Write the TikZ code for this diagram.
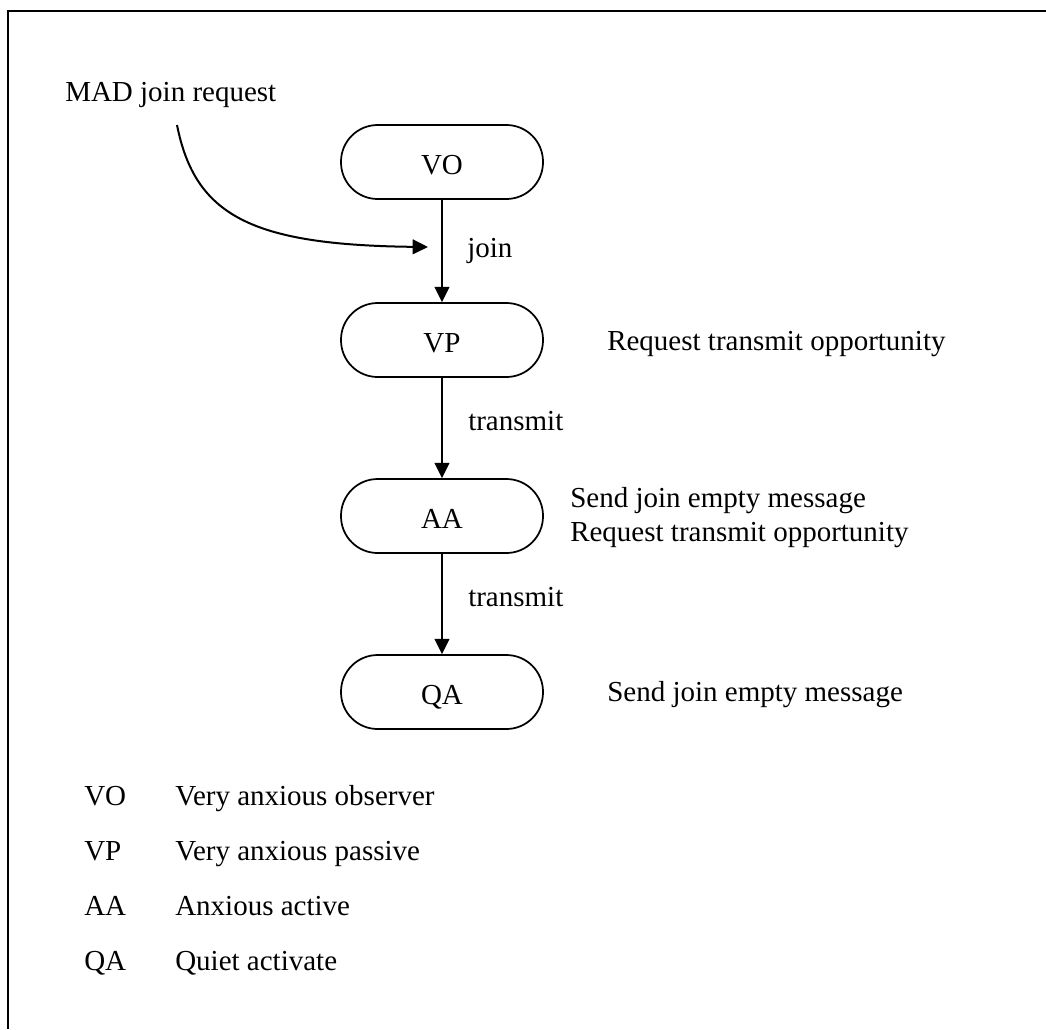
\documentclass[tikz,border=0pt]{standalone}
\usepackage{fontspec}
\setmainfont{Liberation Serif}
\usetikzlibrary{arrows.meta}
\begin{document}
\begin{tikzpicture}[x=0.75pt,y=-0.75pt,
  every node/.style={font=\fontsize{21.75pt}{26pt}\selectfont},
  state/.style={draw, line width=1.3pt, rounded corners=27.5pt,
    minimum width=151.5pt, minimum height=55.5pt, inner sep=0pt,
    text height=18pt, text depth=0pt},
  txt/.style={inner sep=0pt, anchor=base west},
  flow/.style={line width=1.5pt, -{Triangle[length=11.5pt,width=11pt]}},
  frame/.style={line width=1.5pt}]
\useasboundingbox (0,0) rectangle (1046,1029);

% frame edges
\draw[frame] (8,1029) -- (8,11) -- (1046,11);

% states
\node[state] (vo) at (442,162) {VO};
\node[state] (vp) at (442,340) {VP};
\node[state] (aa) at (442,516) {AA};
\node[state] (qa) at (442,692) {QA};

% transitions
\draw[flow] (vo) -- (vp);
\draw[flow] (vp) -- (aa);
\draw[flow] (aa) -- (qa);
\node[txt] (ljoin) at (467,257) {join};
\node[txt] (ltx1) at (468,430) {transmit};
\node[txt] (ltx2) at (468,606) {transmit};

% incoming request
\node[txt] (mad) at (65,101) {MAD join request};
\coordinate (madtail) at (177,125);
\coordinate (joinin) at (428,247);
\draw[flow] (madtail) .. controls (195,215) and (250,245) .. (joinin);

% actions
\node[txt] (avp) at (607,350) {Request transmit opportunity};
\node[txt] (aaa1) at (570,507) {Send join empty message};
\node[txt] (aaa2) at (570,541) {Request transmit opportunity};
\node[txt] (aqa) at (607,701) {Send join empty message};

% legend
\node[txt] (k1) at (84,805) {VO};
\node[txt] (d1) at (175,805) {Very anxious observer};
\node[txt] (k2) at (84,860) {VP};
\node[txt] (d2) at (175,860) {Very anxious passive};
\node[txt] (k3) at (84,915) {AA};
\node[txt] (d3) at (175,915) {Anxious active};
\node[txt] (k4) at (84,970) {QA};
\node[txt] (d4) at (175,970) {Quiet activate};
\end{tikzpicture}
\end{document}
